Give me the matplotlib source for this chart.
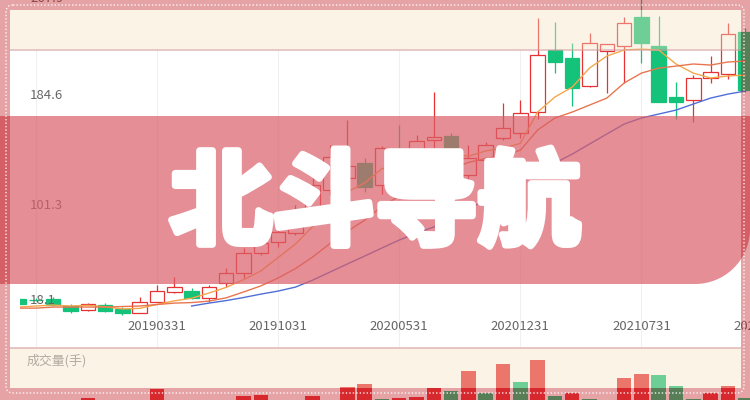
import matplotlib
matplotlib.use("Agg")
import matplotlib.pyplot as plt
import matplotlib.transforms as mtransforms
import matplotlib.patheffects as pe
from matplotlib.patches import Rectangle, FancyBboxPatch, PathPatch, Polygon
from matplotlib.path import Path
import numpy as np

plt.rcParams['font.family'] = ['Noto Sans CJK SC', 'DejaVu Sans']

# monthly k-line 2018-07 .. 2022-01
opens = [30.2, 29.6, 30.2, 25.1, 21.8, 25.8, 22.4, 19.8, 28.1, 35.5,
         36.2, 30.7, 42.5, 49.6, 64.8, 73.5, 80.3, 91.5, 112.7, 121.8,
         133.3, 116.5, 143.5, 131.6, 150.3, 153.5, 124.0, 135.4, 151.8, 155.6,
         171.5, 218.7, 212.8, 191.6, 218.1, 221.9, 243.4, 221.7, 183.3, 180.8,
         197.2, 200.5, 232.5]
closes = [26.4, 29.2, 25.6, 20.8, 26.1, 20.8, 19.8, 28.1, 36.0, 39.2,
          30.7, 39.5, 49.6, 64.8, 72.8, 81.1, 90.5, 116.5, 137.7, 130.8,
          115.0, 144.5, 126.3, 149.5, 152.8, 125.8, 136.9, 146.7, 159.4, 171.2,
          214.9, 209.3, 189.7, 224.2, 223.0, 238.9, 223.7, 179.5, 179.5, 197.2,
          201.8, 230.5, 188.4]
highs = [31.7, 30.9, 31.7, 26.4, 27.4, 27.1, 23.9, 31.4, 40.8, 46.8,
         38.3, 40.8, 53.6, 68.5, 76.9, 86.2, 101.3, 124.0, 146.7, 165.7,
         136.9, 146.0, 161.9, 154.1, 187.1, 155.8, 146.7, 149.2, 178.3, 180.8,
         242.6, 240.1, 223.7, 231.3, 223.5, 243.9, 267.9, 244.4, 194.2, 199.7,
         214.1, 238.9, 235.3]
lows = [24.9, 28.4, 24.9, 19.6, 21.1, 20.3, 18.1, 19.6, 27.9, 35.0,
        30.2, 28.1, 39.5, 45.8, 63.5, 69.8, 78.6, 88.4, 108.9, 118.7,
        111.2, 109.6, 121.8, 129.3, 144.5, 123.3, 121.8, 125.3, 150.5, 152.0,
        166.4, 201.5, 176.3, 190.4, 185.9, 193.4, 209.0, 179.3, 166.4, 164.4,
        193.4, 196.7, 186.9]

ma5 = [24.1, 24.9, 25.6, 24.9, 25.4, 24.3, 22.7, 23.1, 26.1, 28.8,
       30.8, 34.7, 39.0, 44.8, 51.4, 61.6, 71.8, 85.1, 99.7, 111.3,
       118.0, 128.9, 130.8, 133.2, 137.6, 139.8, 138.3, 142.3, 144.3, 148.0,
       171.7, 183.1, 190.6, 205.0, 214.1, 218.7, 219.4, 218.7, 208.1, 201.2,
       197.5, 199.0, 199.7]
ma10 = [23.3, 23.3, 24.1, 24.1, 24.1, 24.1, 24.5, 24.9, 26.0, 27.1,
        27.5, 28.6, 31.1, 35.5, 40.1, 46.1, 53.2, 62.0, 72.2, 81.4,
        89.8, 100.3, 108.0, 116.5, 124.5, 128.9, 133.6, 136.6, 138.8, 142.8,
        158.1, 167.2, 171.7, 177.0, 182.3, 193.7, 201.2, 205.0, 206.5, 208.1,
        207.3, 209.6, 210.3]
ma20 = [np.nan] * 10 + [24.9, 27.1, 29.0, 31.3, 33.9, 36.2, 39.2, 44.5, 50.6, 56.7,
                        62.7, 68.8, 74.8, 80.1, 84.7, 91.5, 98.3, 105.1, 111.2, 118.0,
                        125.6, 133.1, 139.9, 147.5, 155.1, 162.6, 167.2, 170.2, 173.2, 177.8,
                        182.3, 185.3, 187.6]

# volume (bottom part of the panel only)
volumes = [0, 0, 0, 0, 1.7, 0, 0, 0, 10.7, 0,
           0, 0, 0, 4, 5, 0, 0, 4.3, 0, 13.3,
           16, 1, 2.3, 3.3, 11.7, 9.1, 29.3, 7, 36, 17.7,
           39.7, 4, 7, 0.8, 0.3, 22.2, 25.8, 24.6, 14, 1.2,
           7, 14, 1.7]
vol_dir = [-1, -1, -1, -1, 1, -1, -1, 1, 1, 1,
           -1, 1, 1, 1, 1, 1, 1, 1, 1, 1,
           1, -1, 1, 1, 1, -1, 1, -1, 1, -1,
           1, -1, 1, -1, 1, 1, 1, -1, -1, -1,
           1, 1, -1]

tick_pos = [8, 15, 22, 29, 36, 43]
tick_labels = ['20190331', '20191031', '20200531', '20201231', '20210731', '20220228']
grid_pos = [1, 8, 15, 22, 29, 36]
ylabels = [18.1, 101.3, 184.6, 267.9]
title = '北斗导航'

RED = '#e63235'
GREEN = '#14c27a'

W, H = 750, 400
fig = plt.figure(figsize=(W / 100, H / 100), dpi=100)
fig.patch.set_facecolor('white')


def py(y):
    # pixel row -> price
    return 267.9 - (y + 15) * 0.757


X0, STEP = 18.6, 17.3
xlim = ((20 - X0) / STEP, (800 - X0) / STEP)

ax = fig.add_axes([20 / W, 0, 780 / W, 1])
ax.set_xlim(*xlim)
ax.set_ylim(py(H), py(0))
ax.axis('off')

x = np.arange(len(opens))
o = np.array(opens)
c = np.array(closes)
up = c >= o
cols = [RED if u else GREEN for u in up]

ax.vlines(grid_pos, py(347), py(50), color='#f0f0f0', lw=0.8, zorder=0)
ax.vlines(x, lows, highs, colors=cols, lw=0.9, zorder=2)
ax.bar(x, c - o, bottom=o, width=0.84, color=['white' if u else GREEN for u in up],
       edgecolor=cols, linewidth=0.9, zorder=3)
ax.plot(x, ma5, color='#f4a74c', lw=1, zorder=4)
ax.plot(x, ma10, color='#e9764f', lw=1, zorder=4)
ax.plot(x, ma20, color='#4f6fd6', lw=1, zorder=4)

# value labels sit inside the plot, the outer two are cut by the frame
trans = mtransforms.blended_transform_factory(fig.transFigure, ax.transData)
label_y = [py(300), 101.3, 184.6, py(-2)]
for val, yy in zip(ylabels, label_y):
    ax.text(30 / W, yy, f'{val:.1f}', transform=trans, ha='left', va='center',
            fontsize=9.5, color='#666666', zorder=5)
for pos, lab in zip(tick_pos, tick_labels):
    ax.text(pos, py(326), lab, ha='center', va='center', fontsize=9.5, color='#666666')

axv = fig.add_axes([20 / W, 0, 780 / W, 52 / H])
axv.set_xlim(*xlim)
axv.set_ylim(0, 52)
axv.axis('off')
axv.bar(x, volumes, width=0.84, color=[RED if d > 0 else GREEN for d in vol_dir])

# overlay layer in pixel coords
ov = fig.add_axes([0, 0, 1, 1], zorder=10)
ov.set_xlim(0, W)
ov.set_ylim(H, 0)
ov.axis('off')

cream = (245 / 255, 225 / 255, 193 / 255)
ov.add_patch(Rectangle((10, 10), 731, 39, facecolor=cream, alpha=0.4, lw=0))
ov.add_patch(Rectangle((10, 348), 731, 40, facecolor=cream, alpha=0.4, lw=0))
ov.add_patch(Rectangle((10, 48.5), 731, 2, facecolor='#d9a3a3', alpha=0.6, lw=0))
ov.add_patch(Rectangle((10, 346.5), 731, 2, facecolor='#d9a3a3', alpha=0.6, lw=0))
ov.text(27, 361, '成交量(手)', fontsize=9.3, color='#b3aaa2', va='center')

t = np.linspace(0, np.pi / 2, 40)
arc = np.column_stack([695 + 55 * np.cos(t), 229 + 55 * np.sin(t)])
banner = np.vstack([[[-5, 116], [750, 116]], arc, [[-5, 284]]])
ov.add_patch(Polygon(banner, closed=True, facecolor=(218 / 255, 95 / 255, 104 / 255),
                     alpha=0.7, lw=0))
ov.text(375, 206, title, ha='center', va='center', fontsize=74, fontweight='black',
        color='white', family=['Noto Sans CJK SC', 'DejaVu Sans'],
        path_effects=[pe.withStroke(linewidth=5, foreground='white')])

outer = [(0, 0), (W, 0), (W, H), (0, H), (0, 0)]
inner = [(10, 10), (10, 388), (741, 388), (741, 10), (10, 10)]
codes = [Path.MOVETO, Path.LINETO, Path.LINETO, Path.LINETO, Path.CLOSEPOLY] * 2
ov.add_patch(PathPatch(Path(outer + inner, codes), facecolor=(190 / 255, 25 / 255, 33 / 255),
                       alpha=0.4, lw=0))
ov.add_patch(FancyBboxPatch((6, 5), 738, 388, boxstyle='round,pad=0,rounding_size=7',
                            fill=False, edgecolor='white', lw=1, ls=(0, (1, 1.5)), alpha=0.9))

fig.savefig('out.png', dpi=100)
